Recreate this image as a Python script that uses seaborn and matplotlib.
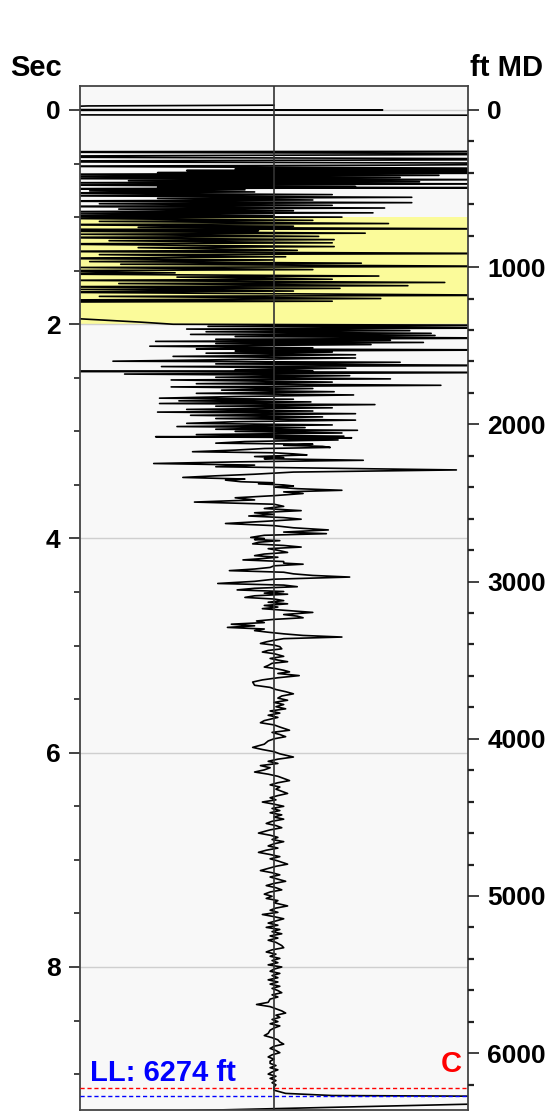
import numpy as np
import pandas as pd
import matplotlib
matplotlib.use("Agg")
import matplotlib.pyplot as plt
import matplotlib.transforms as mtransforms
from matplotlib.ticker import MultipleLocator, FixedLocator
import seaborn as sns

# ---------------- data (time in s, normalized amplitude; |amp|>1 runs off the track) -------------
t_top = [-0.045, -0.038, -0.005, 0.000, 0.004, 0.045, 0.050, 0.385]
v_top = [0.0, -0.96, -1.5, 0.56, -1.5, -1.5, 2.0, 2.0]

t_swing = [0.39, 0.41, 0.435, 0.46, 0.48, 0.50]
v_swing = [-2.0, 2.0, -2.0, 2.0, -2.0, 2.0]

t_upper = [0.515, 0.525, 0.545, 0.55, 0.56, 0.565, 0.575, 0.585, 0.59, 0.60, 0.61, 0.62,
           0.63, 0.64, 0.65, 0.66, 0.67, 0.68, 0.69, 0.70, 0.715, 0.72, 0.725, 0.735,
           0.745, 0.755, 0.765, 0.775, 0.79, 0.80, 0.815, 0.825, 0.84, 0.85, 0.865, 0.875,
           0.89, 0.90, 0.915, 0.925, 0.94, 0.95, 0.96, 0.97, 0.985, 0.99, 1.0]
v_upper = [0.62, -1.3, 1.3, -0.2, 1.3, -0.45, 1.3, -0.6, 1.3, -1.3, 0.85, -1.3,
           0.65, -1.3, 1.3, -0.75, 0.75, -1.3, 1.3, -1.2, 0.42, -0.6, 1.3, -1.3,
           -0.15, -0.95, -0.1, -1.2, 0.3, -1.3, 0.71, -0.6, 0.2, -1.3, 0.71, -0.9,
           0.3, -1.3, 0.57, -0.8, 0.1, -1.3, 0.51, -1.0, 0.0, -1.3, 0.35]

t_zone = [1.01, 1.03, 1.04, 1.06, 1.07, 1.085, 1.095, 1.11, 1.115, 1.125, 1.13, 1.15,
          1.16, 1.18, 1.19, 1.21, 1.22, 1.24, 1.25, 1.275, 1.285, 1.31, 1.32, 1.34,
          1.35, 1.37, 1.385, 1.40, 1.415, 1.43, 1.44, 1.46, 1.47, 1.49, 1.50, 1.52,
          1.53, 1.55, 1.56, 1.58, 1.59, 1.61, 1.62, 1.64, 1.65, 1.665, 1.675, 1.69,
          1.70, 1.73, 1.74, 1.76, 1.775, 1.785, 1.795, 1.90, 1.98, 2.0]
v_zone = [-1.3, 0.2, -0.9, 0.59, -1.3, 0.1, -0.7, 1.3, -1.3, -0.08, -1.3, 0.47,
          -1.0, 0.23, -1.3, 0.31, -0.85, 0.30, -1.3, 0.31, -0.7, 0.12, -1.3, 1.3,
          -0.9, 0.06, -1.3, 0.0, -0.95, 0.45, -0.79, 1.3, -1.0, 0.2, -1.3, -0.51,
          -1.3, 0.54, -0.5, 0.3, -1.1, 0.88, -0.8, 0.69, -1.3, 0.34, -1.0, 0.1,
          -1.3, 1.3, -0.9, 0.55, -1.3, 0.3, -1.5, -1.5, -0.69, -0.52]

t_mid = [2.01, 2.02, 2.035, 2.045, 2.06, 2.07, 2.085, 2.095, 2.105, 2.115, 2.13, 2.14,
         2.15, 2.16, 2.17, 2.18, 2.19, 2.205, 2.22, 2.23, 2.24, 2.25, 2.26, 2.27,
         2.285, 2.30, 2.315, 2.33, 2.345, 2.355, 2.37, 2.385, 2.395, 2.41, 2.425, 2.435,
         2.44, 2.45, 2.465, 2.48, 2.495, 2.51, 2.52, 2.54, 2.555, 2.57, 2.585, 2.60,
         2.615, 2.63, 2.645, 2.66, 2.675, 2.69, 2.70, 2.715, 2.725, 2.74, 2.75, 2.765,
         2.78, 2.795, 2.81, 2.82, 2.835, 2.85, 2.865, 2.88, 2.895, 2.91, 2.925, 2.94,
         2.955, 2.965, 2.98, 2.99, 3.00, 3.015, 3.03, 3.045, 3.05]
v_mid = [1.3, -0.34, 1.3, -0.45, 0.7, -0.35, 0.81, -0.43, 0.83, -0.2, 1.3, -0.3,
         0.6, -0.61, 0.77, -0.3, 0.5, -0.64, 0.2, -0.4, 1.3, -0.2, 0.3, -0.35,
         0.42, -0.52, 0.42, -0.2, -0.83, 0.65, -0.3, 1.3, -0.58, 0.37, -0.2, 0.2,
         -1.3, 1.3, -0.77, 0.39, -0.3, 0.6, -0.53, 0.3, -0.4, 0.86, -0.53, 0.2,
         -0.27, 0.31, -0.4, 0.41, -0.2, -0.59, 0.1, -0.49, 0.19, -0.59, 0.52, -0.3,
         0.3, -0.45, 0.2, -0.6, 0.42, -0.43, 0.25, -0.3, 0.42, -0.2, -0.45, 0.3,
         -0.5, 0.16, -0.3, 0.43, -0.2, 0.35, -0.4, 0.36, -0.61]

t_lower = [3.06, 3.07, 3.08, 3.095, 3.11, 3.12, 3.13, 3.14, 3.15, 3.16, 3.175, 3.19,
           3.20, 3.21, 3.22, 3.235, 3.245, 3.255, 3.27, 3.285, 3.30, 3.315, 3.33, 3.345,
           3.36, 3.38, 3.40, 3.415, 3.43, 3.445, 3.455, 3.47, 3.48, 3.49, 3.50, 3.51,
           3.52, 3.535, 3.55, 3.565, 3.58, 3.60, 3.62, 3.64, 3.66, 3.68, 3.70, 3.72,
           3.74, 3.76, 3.775, 3.79, 3.805, 3.82, 3.84, 3.86, 3.88, 3.90, 3.92, 3.94,
           3.955, 3.97, 3.99, 4.00, 4.01, 4.02, 4.035, 4.05, 4.065, 4.08, 4.095, 4.11,
           4.13, 4.145, 4.16, 4.175, 4.19, 4.20, 4.215, 4.23, 4.24, 4.255, 4.27, 4.285,
           4.30, 4.315, 4.33, 4.345, 4.36, 4.38, 4.40, 4.42, 4.435, 4.45, 4.465, 4.48,
           4.495, 4.51, 4.52, 4.535, 4.55, 4.565, 4.58, 4.595, 4.61, 4.625, 4.64, 4.655,
           4.67, 4.69, 4.71, 4.725, 4.74, 4.755, 4.77, 4.785, 4.80, 4.815, 4.83, 4.845,
           4.86, 4.875, 4.89, 4.905, 4.92, 4.935, 4.95, 4.965, 4.98, 4.995, 5.01, 5.03,
           5.045, 5.06, 5.075, 5.09, 5.10, 5.12, 5.135, 5.15, 5.165, 5.185, 5.20, 5.215,
           5.23, 5.245, 5.26, 5.28]
v_lower = [0.40, 0.0, 0.33, -0.15, -0.30, 0.2, 0.05, 0.25, 0.29, -0.05, -0.2, -0.42,
           0.0, 0.1, 0.17, -0.1, 0.05, -0.05, 0.46, -0.2, -0.62, -0.1, -0.3, 0.3,
           0.94, 0.1, -0.1, -0.3, -0.47, -0.15, -0.25, -0.17, 0.0, -0.08, 0.05, 0.1,
           0.0, 0.12, 0.35, 0.05, 0.15, 0.0, -0.2, -0.1, -0.41, 0.0, 0.05, -0.05,
           0.14, -0.1, 0.0, -0.13, 0.05, 0.14, -0.05, -0.25, 0.0, 0.1, 0.28, 0.05,
           0.27, -0.05, -0.12, -0.05, -0.1, 0.03, -0.08, -0.11, 0.05, 0.14, -0.03, 0.02,
           0.07, -0.05, -0.1, 0.02, -0.08, -0.16, 0.05, 0.05, 0.15, 0.0, -0.02, -0.1,
           -0.23, 0.05, 0.1, 0.2, 0.39, 0.0, -0.1, -0.29, 0.05, 0.12, -0.1, -0.19,
           0.05, -0.05, 0.07, -0.1, -0.15, 0.0, 0.05, -0.03, 0.07, -0.05, 0.02, -0.06,
           0.05, 0.2, 0.05, 0.12, 0.15, 0.0, -0.09, -0.05, -0.22, -0.1, -0.24, -0.05,
           -0.1, -0.03, 0.05, 0.15, 0.35, 0.05, 0.0, -0.04, -0.07, 0.0, 0.03, 0.04,
           -0.03, -0.06, 0.0, 0.03, 0.05, -0.02, 0.02, 0.07, -0.01, -0.03, -0.05, 0.01,
           0.05, 0.08, 0.02, 0.13]

t_deep = [5.30, 5.32, 5.34, 5.37, 5.39, 5.41, 5.43, 5.45, 5.47, 5.49, 5.51, 5.53,
          5.55, 5.57, 5.59, 5.61, 5.63, 5.65, 5.67, 5.70, 5.72, 5.74, 5.76, 5.79,
          5.81, 5.83, 5.85, 5.87, 5.89, 5.92, 5.95, 5.97, 5.99, 6.01, 6.04, 6.06,
          6.08, 6.10, 6.12, 6.14, 6.16, 6.18, 6.20, 6.22, 6.24, 6.26, 6.28, 6.30,
          6.32, 6.34, 6.36, 6.38, 6.40, 6.42, 6.44, 6.46, 6.48, 6.50, 6.52, 6.54,
          6.56, 6.58, 6.60, 6.62, 6.64, 6.66, 6.68, 6.70, 6.72, 6.75, 6.77, 6.79,
          6.81, 6.83, 6.85, 6.87, 6.89, 6.91, 6.93, 6.95, 6.97, 6.99, 7.01, 7.04,
          7.06, 7.08, 7.10, 7.12, 7.14, 7.16, 7.18, 7.20, 7.22, 7.24, 7.26, 7.28,
          7.30, 7.32, 7.34, 7.36, 7.38, 7.40, 7.43, 7.45, 7.47, 7.49, 7.51, 7.53,
          7.55, 7.57, 7.59, 7.61, 7.63, 7.65, 7.67, 7.69, 7.71, 7.73, 7.75, 7.77,
          7.80, 7.82, 7.84, 7.86, 7.88, 7.90, 7.92, 7.94, 7.96, 7.98, 8.00, 8.02,
          8.04, 8.06, 8.08, 8.10, 8.12, 8.14, 8.16, 8.18, 8.20, 8.22, 8.24, 8.26,
          8.28, 8.30, 8.33, 8.35, 8.37, 8.39, 8.41, 8.43, 8.45, 8.47, 8.49, 8.51,
          8.53, 8.55, 8.57, 8.59, 8.62, 8.64, 8.66, 8.68, 8.70, 8.72, 8.74, 8.76,
          8.78, 8.80, 8.82, 8.84, 8.86, 8.88, 8.90, 8.92, 8.94, 8.96, 8.98, 9.00,
          9.02, 9.04, 9.06, 9.08, 9.10, 9.12, 9.15, 9.18, 9.20, 9.21, 9.26, 9.36]
v_deep = [0.02, -0.06, -0.11, -0.10, -0.02, 0.01, 0.06, 0.10, 0.04, 0.02, 0.07, 0.0,
          0.05, 0.01, 0.06, -0.02, 0.03, -0.03, 0.02, -0.05, -0.07, 0.0, 0.03, 0.08,
          -0.01, 0.03, 0.06, 0.0, -0.03, -0.05, -0.11, -0.06, 0.0, 0.03, 0.10, 0.02,
          -0.03, 0.02, -0.07, -0.02, -0.05, -0.10, -0.03, 0.02, 0.05, 0.08, 0.02, -0.02,
          0.03, 0.01, 0.04, 0.07, 0.02, -0.02, 0.01, -0.06, 0.0, 0.05, -0.01, 0.03,
          -0.02, 0.04, 0.0, 0.05, -0.01, -0.04, 0.01, 0.04, -0.02, -0.08, -0.02, 0.02,
          -0.01, 0.05, 0.0, -0.03, 0.02, -0.04, -0.08, -0.02, 0.03, -0.02, 0.02, 0.07,
          0.01, -0.03, -0.07, -0.01, 0.03, -0.02, 0.02, 0.06, 0.0, -0.04, 0.01, 0.04,
          -0.02, -0.05, -0.01, -0.04, 0.02, 0.0, 0.07, 0.01, -0.02, 0.02, -0.06, 0.0,
          0.05, 0.01, -0.03, 0.02, -0.04, 0.03, -0.01, 0.04, -0.02, 0.02, -0.03, 0.01,
          0.04, 0.05, -0.01, -0.04, 0.01, -0.02, 0.03, -0.01, 0.02, -0.03, 0.04, 0.0,
          -0.02, 0.03, -0.01, 0.02, -0.03, 0.02, -0.02, 0.03, -0.01, 0.02, 0.04, -0.01,
          0.02, -0.02, -0.03, -0.09, -0.02, 0.01, 0.04, 0.06, 0.01, 0.03, -0.01, 0.02,
          -0.02, 0.03, 0.0, -0.02, -0.03, -0.05, -0.01, 0.02, 0.03, 0.05, 0.0, -0.02,
          0.01, 0.03, -0.01, -0.03, 0.0, -0.02, -0.02, 0.01, -0.02, 0.02, -0.01, -0.03,
          0.01, -0.02, 0.01, -0.01, 0.01, 0.0, 0.0, 0.06, 0.3, 1.5, 1.5, -0.9]

zone_top_s, zone_base_s = 1.0, 2.0
ll_ft = 6274
c_ft = 6223
ft_per_s = 681.5
sec_ticks = [0, 2, 4, 6, 8]
ft_ticks = [0, 1000, 2000, 3000, 4000, 5000, 6000]

# ---------------- figure ----------------
sns.set_style("white")
plt.rcParams['font.family'] = ['Liberation Sans', 'DejaVu Sans']
plt.rcParams['font.weight'] = 'bold'
for key in ['text.color', 'axes.labelcolor', 'xtick.color', 'ytick.color']:
    plt.rcParams[key] = 'black'

fig = plt.figure(figsize=(5.56, 11.11), dpi=100)
ax = fig.add_axes([80/556, 1 - 1110/1111, (468-80)/556, (1110-86)/1111])
ax.set_facecolor('#f8f8f8')

trace = pd.DataFrame({
    't': t_top + t_swing + t_upper + t_zone + t_mid + t_lower + t_deep,
    'v': v_top + v_swing + v_upper + v_zone + v_mid + v_lower + v_deep,
})

ymin, ymax = 9.335, -0.224
ax.axhspan(zone_top_s, zone_base_s, color='#fbfb9a', zorder=0.5, lw=0)
for s in sec_ticks:
    ax.axhline(s, color='#cfcfcf', lw=1.0, zorder=0.6)
ax.axvline(0, color='#333333', lw=1.2, zorder=3)

sns.lineplot(data=trace, x='v', y='t', sort=False, estimator=None, color='black',
             lw=1.2, ax=ax, zorder=2)

ax.set_xlim(-1, 1)
ax.set_ylim(ymin, ymax)
ax.set_xticks([])
ax.set_xlabel('')
ax.set_ylabel('')
ax.yaxis.set_major_locator(FixedLocator(sec_ticks))
ax.yaxis.set_minor_locator(MultipleLocator(0.5))
ax.tick_params(axis='y', which='major', direction='out', length=8, width=1.2,
               labelsize=19, pad=6, color='#222222', labelcolor='black')
ax.tick_params(axis='y', which='minor', direction='out', length=4, width=1.2,
               color='#222222', left=True)
for sp in ax.spines.values():
    sp.set_color('#444444')
    sp.set_linewidth(1.3)

ax2 = ax.twinx()
ax2.set_ylim(ymin * ft_per_s, ymax * ft_per_s)
ax2.yaxis.set_major_locator(FixedLocator(ft_ticks))
ax2.yaxis.set_minor_locator(MultipleLocator(200))
ax2.tick_params(axis='y', which='major', direction='out', length=8, width=1.2,
                labelsize=19, pad=6, color='#222222', labelcolor='black')
ax2.tick_params(axis='y', which='minor', direction='out', length=4, width=1.6,
                color='#222222', right=True)
for sp in ax2.spines.values():
    sp.set_visible(False)

ax2.axhline(c_ft, color='red', lw=1.0, ls=(0, (3, 2)), zorder=4)
ax2.axhline(ll_ft, color='blue', lw=1.0, ls=(0, (3, 2)), zorder=4)
blend = mtransforms.blended_transform_factory(ax.transData, ax2.transData)
ax2.text(-0.95, c_ft - 8, f'LL: {ll_ft} ft', color='blue', fontsize=21,
         fontweight='bold', ha='left', va='bottom', transform=blend)
ax2.text(0.97, c_ft - 62, 'C', color='red', fontsize=21, fontweight='bold',
         ha='right', va='bottom', transform=blend)

fig.text(36/556, 1 - 68/1111, 'Sec', ha='center', va='center', fontsize=21, fontweight='bold')
fig.text(470/556, 1 - 68/1111, 'ft MD', ha='left', va='center', fontsize=21, fontweight='bold')

fig.savefig('out.png', dpi=100)
